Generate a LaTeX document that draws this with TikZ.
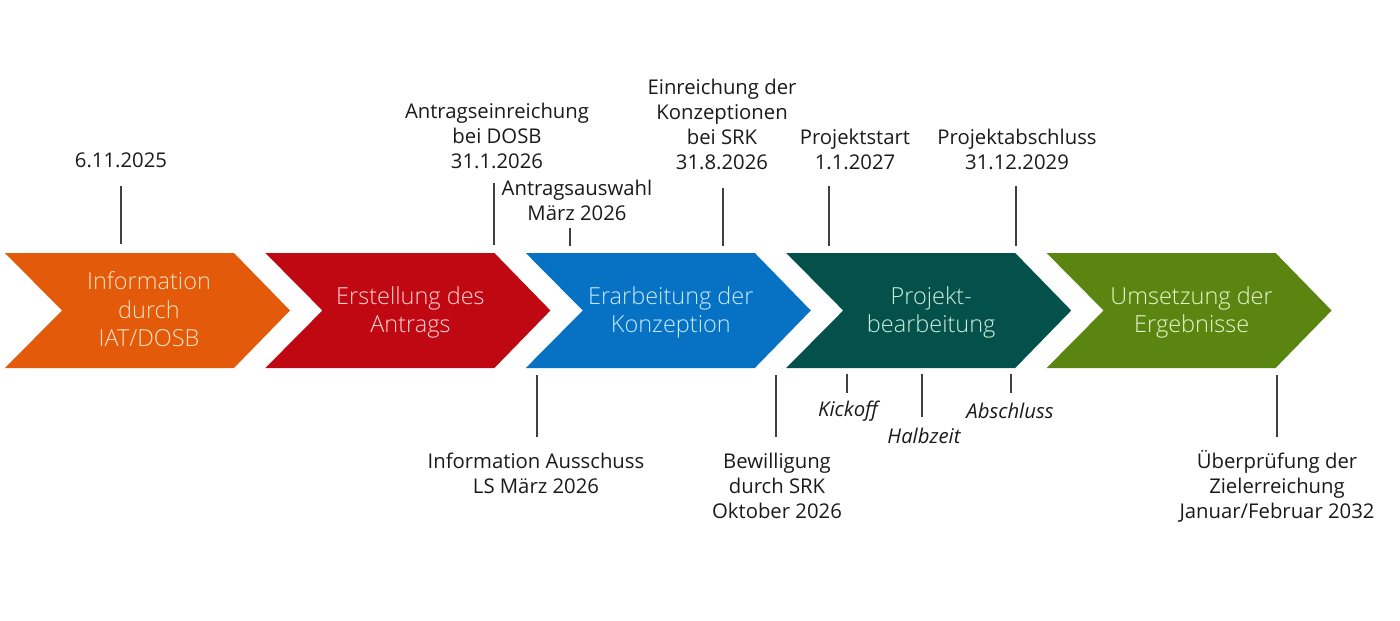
\documentclass[tikz,border=0pt]{standalone}
\usepackage{fontspec}
\setmainfont{Open Sans}
\newfontfamily\lightfont{Open Sans}[UprightFont={* Light}]
\definecolor{c1}{HTML}{E35A0A}
\definecolor{c2}{HTML}{C00812}
\definecolor{c3}{HTML}{0772C4}
\definecolor{c4}{HTML}{03514A}
\definecolor{c5}{HTML}{5A8511}
\definecolor{t1}{HTML}{FFE2C4}
\definecolor{t2}{HTML}{FFD2D4}
\definecolor{t3}{HTML}{C8EAFF}
\definecolor{t4}{HTML}{CDF0DE}
\definecolor{t5}{HTML}{EAF6CC}
\definecolor{labelc}{HTML}{1A1A1A}
\definecolor{tickc}{HTML}{404040}
\tikzset{
  lbl/.style={font=\fontsize{20.3}{25}\selectfont, text=labelc, align=center, inner sep=0pt},
  ilbl/.style={lbl, font=\fontsize{20.3}{25}\selectfont\itshape},
  tick/.style={draw=tickc, line width=1.8pt},
  stage/.style={font=\lightfont\fontsize{23.5}{28.5}\selectfont, align=center, inner sep=0pt},
}
\newcommand\chevshape[2]{%
  \fill[#2] (#1,253) -- ++(229,0) -- ++(56,57.5) -- ++(-56,57.5) -- ++(-229,0) -- ++(57,-57.5) -- cycle;}
\begin{document}
\begin{tikzpicture}[x=1pt,y=-1pt]
\useasboundingbox (0,0) rectangle (1400,621);
% chevrons
\chevshape{5}{c1}
\chevshape{265.4}{c2}
\chevshape{525.8}{c3}
\chevshape{786.2}{c4}
\chevshape{1046.6}{c5}
\node[stage, text=t1] (s1) at (149,309.5) {Information\\durch\\IAT/DOSB};
\node[stage, text=t2] (s2) at (410.4,312.5) {Erstellung des\\Antrags};
\node[stage, text=t3] (s3) at (670.8,312.5) {Erarbeitung der\\Konzeption};
\node[stage, text=t4] (s4) at (931.2,312.5) {Projekt-\\bearbeitung};
\node[stage, text=t5] (s5) at (1191.6,312.5) {Umsetzung der\\Ergebnisse};
% top labels
\node[lbl] (l1) at (121,160) {6.11.2025};
\node[lbl] (l2) at (497,136) {Antragseinreichung\\bei DOSB\\31.1.2026};
\node[lbl] (l3) at (577,200) {Antragsauswahl\\März 2026};
\node[lbl] (l4) at (722,124) {Einreichung der\\Konzeptionen\\bei SRK\\31.8.2026};
\node[lbl] (l5) at (855,149) {Projektstart\\1.1.2027};
\node[lbl] (l6) at (1017,149) {Projektabschluss\\31.12.2029};
% bottom labels
\node[lbl] (b1) at (536,473) {Information Ausschuss\\LS März 2026};
\node[lbl] (b2) at (777,486) {Bewilligung\\durch SRK\\Oktober 2026};
\node[ilbl] (b3) at (848,411) {Kickoff};
\node[ilbl] (b4) at (924,436) {Halbzeit};
\node[ilbl] (b5) at (1010,411) {Abschluss};
\node[lbl] (b6) at (1277,486) {Überprüfung der\\Zielerreichung\\Januar/Februar 2032};
% tick coordinates
\coordinate (k1a) at (121,186); \coordinate (k1b) at (121,244);
\coordinate (k2a) at (494,183); \coordinate (k2b) at (494,245);
\coordinate (k3a) at (570,228); \coordinate (k3b) at (570,246);
\coordinate (k4a) at (723,188); \coordinate (k4b) at (723,246);
\coordinate (k5a) at (829,186); \coordinate (k5b) at (829,246);
\coordinate (k6a) at (1016,186); \coordinate (k6b) at (1016,246);
\coordinate (m1a) at (537,375); \coordinate (m1b) at (537,437);
\coordinate (m2a) at (776,375); \coordinate (m2b) at (776,437);
\coordinate (m3a) at (847,374); \coordinate (m3b) at (847,393);
\coordinate (m4a) at (922,374); \coordinate (m4b) at (922,417);
\coordinate (m5a) at (1011,374); \coordinate (m5b) at (1011,393);
\coordinate (m6a) at (1277,375); \coordinate (m6b) at (1277,437);
\foreach \t in {k1,k2,k3,k4,k5,k6,m1,m2,m3,m4,m5,m6}
  \draw[tick] (\t a) -- (\t b);
\end{tikzpicture}
\end{document}
